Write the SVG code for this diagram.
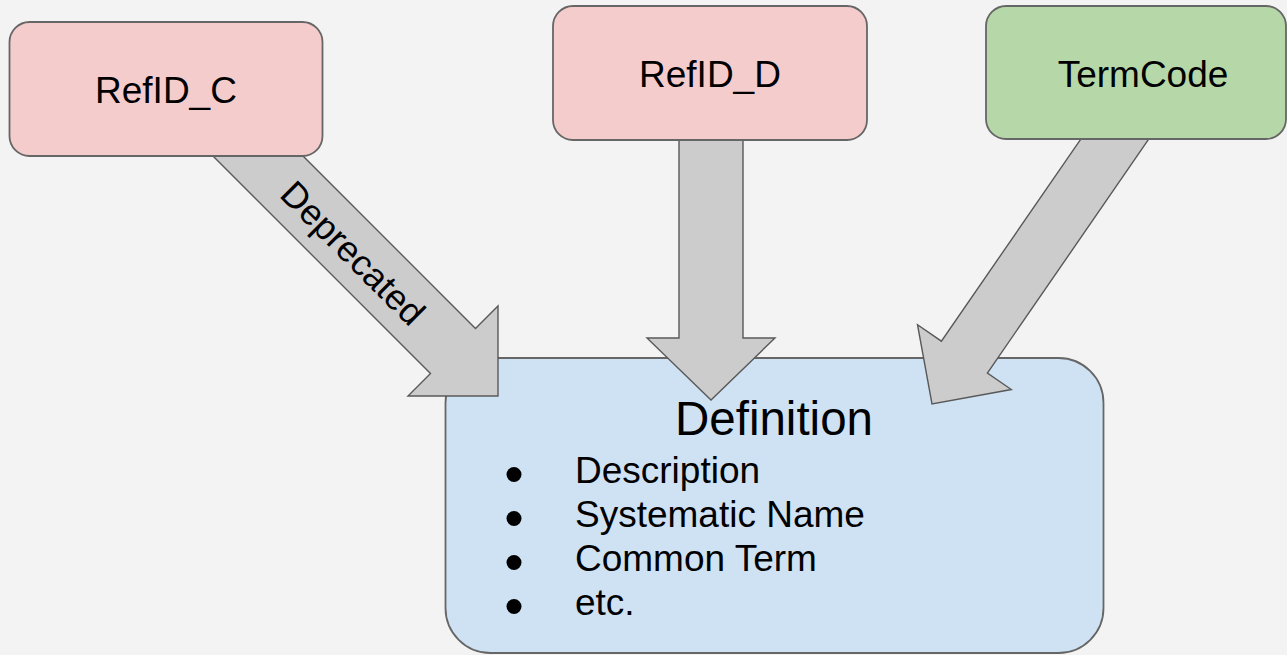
<svg xmlns="http://www.w3.org/2000/svg" width="1287" height="655" viewBox="0 0 1287 655">
  <defs>
    <style>
      .box { stroke: #666666; stroke-width: 1.8; }
      .pink { fill: #f4cccc; }
      .green { fill: #b6d7a8; }
      .blue { fill: #cfe2f3; }
      .arrow { fill: #cccccc; stroke: #595959; stroke-width: 1.4; stroke-linejoin: miter; }
      .t { font-family: "Liberation Sans", Arial, sans-serif; fill: #000000; }
      .lbl { font-size: 37px; text-anchor: middle; }
      .item { font-size: 37px; }
      .bullet { fill: #000000; }
    </style>
  </defs>
  <rect x="0" y="0" width="1287" height="655" fill="#f3f3f3"/>

  <g id="definition">
    <rect class="box blue" x="445.5" y="358" width="658" height="295" rx="45" ry="45"/>
    <text class="t" x="774" y="435" font-size="47.5" text-anchor="middle">Definition</text>
    <circle class="bullet" cx="514" cy="474.5" r="7.5"/>
    <circle class="bullet" cx="514" cy="518.5" r="7.5"/>
    <circle class="bullet" cx="514" cy="562.5" r="7.5"/>
    <circle class="bullet" cx="514" cy="606.5" r="7.5"/>
    <text class="t item" x="575" y="483">Description</text>
    <text class="t item" x="575" y="527">Systematic Name</text>
    <text class="t item" x="575" y="571">Common Term</text>
    <text class="t item" x="575" y="615">etc.</text>
  </g>

  <g id="connectors">
    <g id="arrow-c">
      <polygon class="arrow" points="183,126 430.5,373.5 408,396 498,396 498,306 475.5,328.5 273,126"/>
      <text class="t" transform="translate(354,252) rotate(45)" x="0" y="14" font-size="36" text-anchor="middle">Deprecated</text>
    </g>
    <polygon id="arrow-d" class="arrow" points="679,110 679,338 647,338 711,400 775,338 743,338 743,110"/>
    <polygon id="arrow-term" class="arrow" points="1154.2,131.2 987.4,373 1011.3,389.5 932,404 917.5,324.7 941.4,341.2 1108.2,99.4"/>
  </g>

  <g id="refid-c">
    <rect class="box pink" x="9.5" y="22" width="313" height="134" rx="20" ry="20"/>
    <text class="t lbl" x="166" y="103">RefID_C</text>
  </g>
  <g id="refid-d">
    <rect class="box pink" x="553" y="6" width="314" height="134" rx="20" ry="20"/>
    <text class="t lbl" x="710" y="87">RefID_D</text>
  </g>
  <g id="termcode">
    <rect class="box green" x="986" y="6" width="300" height="133" rx="20" ry="20"/>
    <text class="t lbl" x="1143" y="87">TermCode</text>
  </g>
</svg>
